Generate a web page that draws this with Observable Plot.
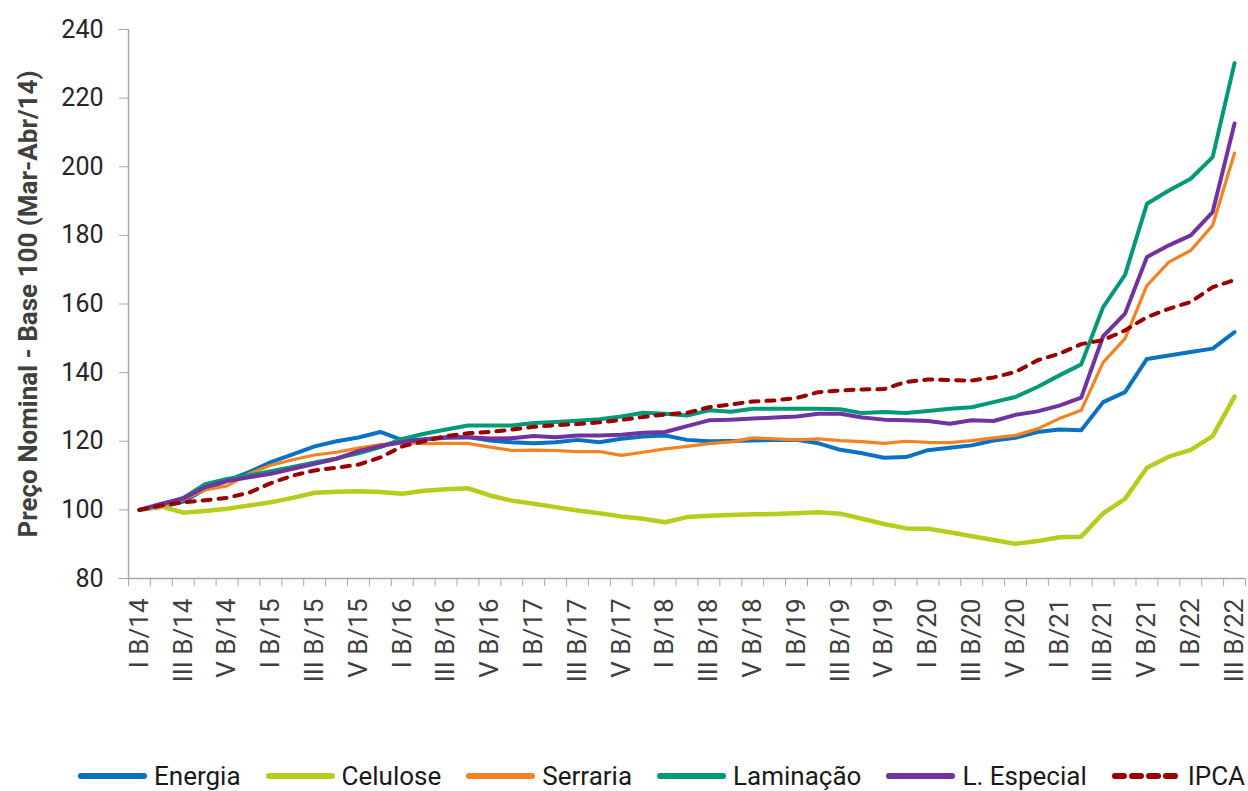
<!DOCTYPE html>
<html><head><meta charset="utf-8">
<script src="https://cdn.jsdelivr.net/npm/d3@7"></script>
<script src="https://cdn.jsdelivr.net/npm/@observablehq/plot@0.6"></script>
<style>
body{margin:0;background:#fff;font-family:Roboto,sans-serif;}
#wrap{position:relative;width:1248px;height:791px;overflow:hidden;}
#legend{position:absolute;left:77px;top:761px;display:flex;align-items:center;font-size:26px;line-height:30px;color:#1a1a1a;white-space:nowrap;}
.item{display:flex;align-items:center;margin-right:24px;}
.item svg{margin-right:6px;}
</style></head><body><div id="wrap"><div id="chart"></div><div id="legend"></div></div>
<script>
const periods = [
"I B/14","II B/14","III B/14","IV B/14","V B/14","VI B/14",
"I B/15","II B/15","III B/15","IV B/15","V B/15","VI B/15",
"I B/16","II B/16","III B/16","IV B/16","V B/16","VI B/16",
"I B/17","II B/17","III B/17","IV B/17","V B/17","VI B/17",
"I B/18","II B/18","III B/18","IV B/18","V B/18","VI B/18",
"I B/19","II B/19","III B/19","IV B/19","V B/19","VI B/19",
"I B/20","II B/20","III B/20","IV B/20","V B/20","VI B/20",
"I B/21","II B/21","III B/21","IV B/21","V B/21","VI B/21",
"I B/22","II B/22","III B/22"];

const energia = [100, 100.8, 102.4, 106, 108.5, 111, 113.9, 116.2, 118.5, 120, 121.1, 122.7, 120.3, 120.5, 121, 121.2, 120.2, 119.7, 119.4, 119.7, 120.4, 119.7, 120.7, 121.4, 121.7, 120.4, 120, 120.1, 120.2, 120.4, 120.4, 119.4, 117.5, 116.5, 115.2, 115.4, 117.4, 118.1, 118.8, 120.2, 121, 122.7, 123.4, 123.2, 131.4, 134.3, 144, 145, 146, 147, 151.8];
const celulose = [100, 101, 99.2, 99.7, 100.3, 101.3, 102.2, 103.5, 105, 105.3, 105.4, 105.2, 104.7, 105.6, 106, 106.3, 104.2, 102.7, 101.8, 100.8, 99.8, 99, 98.1, 97.4, 96.4, 97.9, 98.3, 98.5, 98.7, 98.8, 99, 99.3, 98.9, 97.4, 95.9, 94.6, 94.5, 93.5, 92.3, 91.2, 90.1, 90.9, 92, 92.2, 99, 103.2, 112.3, 115.5, 117.5, 121.5, 133];
const serraria = [100, 101, 103, 105.8, 107, 110.5, 113, 114.6, 116, 116.8, 118, 119, 119.7, 119.3, 119.4, 119.4, 118.3, 117.3, 117.4, 117.3, 117, 117, 115.9, 116.8, 117.8, 118.5, 119.3, 119.8, 121, 120.7, 120.4, 120.7, 120.2, 119.9, 119.4, 120, 119.7, 119.6, 120.2, 121, 121.7, 123.6, 126.6, 129, 143, 149.9, 165.4, 172.2, 175.6, 182.9, 204];
const laminacao = [100, 101.5, 103.5, 107.5, 109, 110, 111.3, 112.5, 113.8, 115, 116.5, 118.3, 120.7, 122.2, 123.4, 124.6, 124.6, 124.6, 125.3, 125.6, 126, 126.4, 127.2, 128.3, 128, 127.5, 129, 128.6, 129.5, 129.5, 129.5, 129.5, 129.3, 128.2, 128.5, 128.2, 128.8, 129.5, 129.9, 131.4, 132.9, 135.8, 139.2, 142.4, 159.1, 168.5, 189.2, 193.1, 196.5, 202.8, 230.2];
const especial = [100, 101.8, 103.3, 106.6, 108.4, 109.5, 110.5, 112, 113.4, 114.9, 117.1, 118.6, 119.7, 120.6, 121.2, 121.2, 120.8, 120.9, 121.5, 121.2, 121.7, 121.7, 121.9, 122.5, 122.7, 124.4, 126.1, 126.3, 126.6, 126.9, 127.2, 128, 128, 126.9, 126.3, 126.1, 125.9, 125.1, 126.1, 125.9, 127.7, 128.7, 130.4, 132.7, 150.6, 157.2, 173.7, 177.1, 180, 186.8, 212.6];
const ipca = [100, 101.3, 102.2, 102.8, 103.5, 105, 107.8, 110, 111.5, 112.3, 113.2, 115.3, 118.5, 120, 121.5, 122.3, 122.7, 123.4, 124.2, 124.7, 125, 125.5, 126.2, 127.1, 127.8, 128.3, 129.9, 130.7, 131.6, 131.9, 132.6, 134.3, 134.8, 135.1, 135.2, 137.3, 138, 137.8, 137.7, 138.6, 140.2, 143.6, 145.5, 148.3, 149.5, 152.3, 156.2, 158.6, 160.6, 164.9, 167];

const yTicks = [80, 100, 120, 140, 160, 180, 200, 220, 240];
const yTitle = "Preço Nominal - Base 100 (Mar-Abr/14)";

const series = [
  {name: "Energia", values: energia, color: "#0a72c2", width: 4, dash: null},
  {name: "Celulose", values: celulose, color: "#b8cc1c", width: 4.5, dash: null},
  {name: "Serraria", values: serraria, color: "#f58220", width: 3.2, dash: null},
  {name: "Laminação", values: laminacao, color: "#009a78", width: 4, dash: null},
  {name: "L. Especial", values: especial, color: "#7232a0", width: 4, dash: null},
  {name: "IPCA", values: ipca, color: "#990000", width: 4, dash: "8,8"}
];

const lineMarks = series.map(s => Plot.line(
  s.values.map((v, i) => ({i, v})),
  {x: "i", y: "v", stroke: s.color, strokeWidth: s.width, strokeDasharray: s.dash,
   strokeLinecap: "round", strokeLinejoin: "round"}));

const chart = Plot.plot({
  width: 1248, height: 750,
  marginTop: 29, marginBottom: 172, marginLeft: 128, marginRight: 3,
  style: {fontFamily: "Roboto, sans-serif", background: "#fff", color: "#404040"},
  x: {type: "linear", domain: [-0.5, periods.length - 0.5], label: null},
  y: {domain: [80, 240], label: null},
  marks: [
    Plot.ruleX([-0.5], {stroke: "#a6a6a6", strokeWidth: 1.5}),
    Plot.ruleY([80], {stroke: "#a6a6a6", strokeWidth: 1.5}),
    Plot.axisY({ticks: yTicks, tickSize: 9, tickPadding: 16, stroke: "#a6a6a6", fill: "#262626", fontSize: 25, label: null, tickFormat: d => String(d)}),
    Plot.axisX({ticks: d3.range(-0.5, periods.length, 1), tickSize: 8, stroke: "#a6a6a6", tickFormat: () => "", label: null}),
    Plot.axisX({ticks: d3.range(0, periods.length, 2), tickSize: 0, tickPadding: 20, tickRotate: -90, fill: "#404040", fontSize: 26, tickFormat: i => periods[i], label: null}),
    Plot.text([yTitle], {frameAnchor: "left", textAnchor: "middle", rotate: -90, dx: -100, fontWeight: "bold", fontSize: 26, fill: "#404040"}),
    ...lineMarks
  ]
});
document.getElementById("chart").appendChild(chart);

const legend = document.getElementById("legend");
for (const s of series) {
  const item = document.createElement("div");
  item.className = "item";
  const dash = s.dash ? 'stroke-dasharray="9,8"' : "";
  item.innerHTML = `<svg width="71" height="12"><line x1="4" y1="6" x2="67" y2="6" stroke="${s.color}" stroke-width="6" stroke-linecap="round" ${dash}/></svg><span>${s.name}</span>`;
  legend.appendChild(item);
}
</script></body></html>
